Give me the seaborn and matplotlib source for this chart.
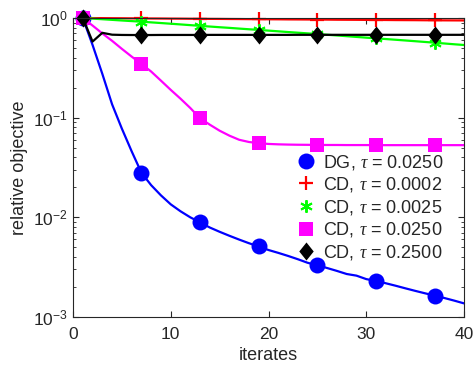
import numpy as np
import pandas as pd
import matplotlib
matplotlib.use("Agg")
import matplotlib.pyplot as plt
from matplotlib.lines import Line2D
from matplotlib.ticker import LogLocator, FixedLocator, NullFormatter
import seaborn as sns

# ---- data ----
iterates = list(range(1, 41))

dg_0250 = [1.0, 0.537, 0.275, 0.136, 0.0776, 0.0460, 0.028, 0.021, 0.0166, 0.0135,
           0.0115, 0.0100, 0.0089, 0.0079, 0.00716, 0.00653, 0.00598, 0.0055, 0.0051, 0.0047,
           0.0044, 0.0041, 0.0038, 0.0035, 0.0033, 0.0031, 0.0029, 0.0027, 0.0026, 0.0024,
           0.0023, 0.00218, 0.00206, 0.00194, 0.00183, 0.00173, 0.00164, 0.00155, 0.00146, 0.00137]

cd_0002 = [1.000, 0.998, 0.997, 0.995, 0.994, 0.992, 0.991, 0.989, 0.988, 0.986,
           0.985, 0.983, 0.982, 0.980, 0.979, 0.977, 0.976, 0.974, 0.973, 0.971,
           0.970, 0.968, 0.967, 0.966, 0.964, 0.963, 0.961, 0.960, 0.959, 0.957,
           0.956, 0.955, 0.953, 0.952, 0.951, 0.949, 0.948, 0.947, 0.946, 0.945]

cd_0025 = [1.000, 0.986, 0.972, 0.958, 0.944, 0.931, 0.918, 0.904, 0.890, 0.876,
           0.862, 0.848, 0.834, 0.821, 0.808, 0.796, 0.783, 0.771, 0.759, 0.747,
           0.735, 0.723, 0.712, 0.701, 0.690, 0.679, 0.668, 0.657, 0.646, 0.635,
           0.625, 0.615, 0.605, 0.595, 0.585, 0.575, 0.565, 0.555, 0.545, 0.536]

cd_0250 = [1.0, 0.84, 0.70, 0.59, 0.49, 0.41, 0.346, 0.29, 0.235, 0.19,
           0.155, 0.125, 0.0986, 0.085, 0.074, 0.066, 0.060, 0.057, 0.0555, 0.0545,
           0.0540, 0.0537, 0.0535, 0.0534, 0.0533, 0.0532, 0.0532, 0.0531, 0.0531, 0.0531,
           0.0530, 0.0530, 0.0530, 0.0530, 0.0530, 0.0530, 0.0530, 0.0530, 0.0530, 0.0530]

cd_2500 = [1.0, 0.58, 0.71, 0.68, 0.676, 0.675, 0.675, 0.675, 0.676, 0.676,
           0.676, 0.676, 0.676, 0.677, 0.677, 0.677, 0.677, 0.677, 0.677, 0.677,
           0.677, 0.677, 0.678, 0.678, 0.678, 0.678, 0.678, 0.678, 0.678, 0.678,
           0.678, 0.678, 0.678, 0.678, 0.678, 0.678, 0.678, 0.678, 0.678, 0.678]

labels = [r"DG, $\mathit{\tau}$ = 0.0250", r"CD, $\mathit{\tau}$ = 0.0002",
          r"CD, $\mathit{\tau}$ = 0.0025", r"CD, $\mathit{\tau}$ = 0.0250",
          r"CD, $\mathit{\tau}$ = 0.2500"]
series = [dg_0250, cd_0002, cd_0025, cd_0250, cd_2500]

x_ticks = [0, 10, 20, 30, 40]

# ---- style ----
sns.set_theme(style="ticks")
plt.rcParams["font.family"] = ["Liberation Sans", "DejaVu Sans"]
plt.rcParams["mathtext.fontset"] = "custom"
plt.rcParams["mathtext.rm"] = "Liberation Sans"
plt.rcParams["mathtext.it"] = "Liberation Serif:italic"
plt.rcParams["mathtext.default"] = "regular"

axc = "#262626"
diamond = [(0, 1), (0.8, 0), (0, -1), (-0.8, 0), (0, 1)]
styles = [
    dict(color="#0000ff", marker="o", ms=11.5, mew=0),
    dict(color="#ff0000", marker="+", ms=10, mew=1.6),
    dict(color="#00ff00", marker=(6, 2, 0), ms=9, mew=1.4),
    dict(color="#ff00ff", marker="s", ms=10.5, mew=0),
    dict(color="#000000", marker=diamond, ms=13, mew=0),
]

fig = plt.figure(figsize=(4.73, 3.70), dpi=100)
ax = fig.add_axes([73 / 473, 1 - 317 / 370, (464 - 73) / 473, (317 - 18) / 370])

for vals, lab, st in zip(series, labels, styles):
    df = pd.DataFrame({"iterates": iterates, "value": vals})
    sns.lineplot(data=df, x="iterates", y="value", ax=ax, color=st["color"],
                 linewidth=1.6, marker=st["marker"], markersize=st["ms"],
                 markeredgewidth=st["mew"], markeredgecolor=st["color"],
                 markerfacecolor=st["color"], markevery=6, clip_on=False)

ax.set_yscale("log")
ax.set_xlim(0, 40)
ax.set_ylim(1e-3, 1)
ax.xaxis.set_major_locator(FixedLocator(x_ticks))
ax.yaxis.set_major_locator(LogLocator(base=10, numticks=10))
ax.yaxis.set_minor_locator(LogLocator(base=10, subs=np.arange(2, 10), numticks=20))
ax.yaxis.set_minor_formatter(NullFormatter())

for s in ax.spines.values():
    s.set_visible(True)
    s.set_color(axc)
    s.set_linewidth(0.8)
ax.tick_params(which="both", direction="in", top=True, right=True, colors=axc,
               labelcolor=axc, labelsize=12.5)
ax.tick_params(which="major", length=4.5, width=0.8)
ax.tick_params(axis="x", which="major", pad=7)
ax.tick_params(axis="y", which="major", pad=4)
ax.tick_params(which="minor", length=2.5, width=0.6)

ax.set_xlabel("iterates", fontsize=13, color=axc, labelpad=4)
ax.set_ylabel("relative objective", fontsize=13, color=axc, labelpad=3)

handles = [Line2D([], [], linestyle="none", marker=st["marker"], markersize=st["ms"],
                  markeredgewidth=st["mew"], color=st["color"]) for st in styles]
ax.legend(handles, labels, loc="lower right", bbox_to_anchor=(0.946, 0.184),
          frameon=False, fontsize=13, handlelength=1.0, handletextpad=0.4,
          labelspacing=0.2, borderpad=0.0, borderaxespad=0.0)

fig.savefig("out.png", dpi=100)
